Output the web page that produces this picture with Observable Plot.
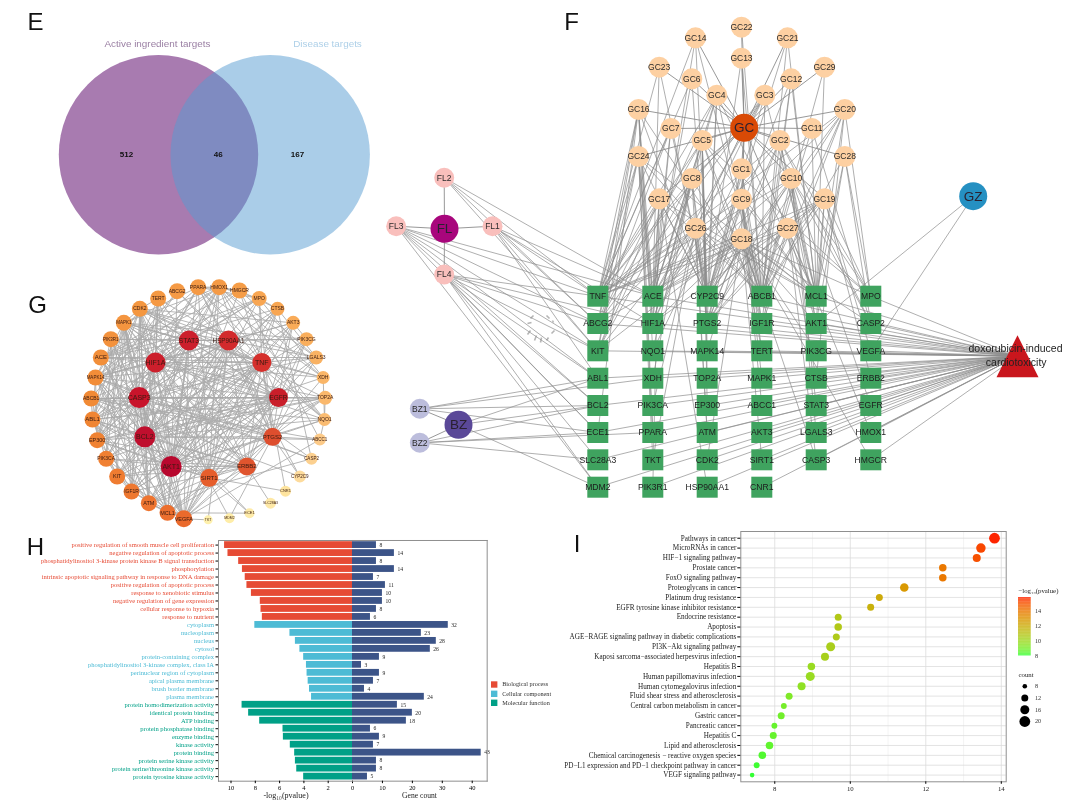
<!DOCTYPE html>
<html><head><meta charset="utf-8">
<script src="https://cdn.jsdelivr.net/npm/d3@7"></script>
<script src="https://cdn.jsdelivr.net/npm/@observablehq/plot@0.6"></script>
<style>
html,body{margin:0;padding:0;background:#fff}
#page{position:relative;width:1080px;height:800px;overflow:hidden;background:#fff;filter:blur(.35px)}
#page svg{position:absolute;background:transparent;overflow:visible}
</style></head><body><div id="page"></div>
<script>
// ---------- Panel E : Venn ----------
const vennSets = [
  {name:"Active ingredient targets", count:512, cx:158, cy:154.2, r:99.7, fill:"#a87bb0", op:1, labelX:157, numX:126, tint:"#9a7fa3"},
  {name:"Disease targets", count:167, cx:269.7, cy:154.2, r:99.7, fill:"#559bd1", op:0.5, labelX:327, numX:297, tint:"#aed0e8"}
];
const vennOverlap = {count:46, x:217.7, y:153.7};

// ---------- Panel F : network ----------
const targetRows = [
  ["TNF","ACE","CYP2C9","ABCB1","MCL1","MPO"],
  ["ABCG2","HIF1A","PTGS2","IGF1R","AKT1","CASP2"],
  ["KIT","NQO1","MAPK14","TERT","PIK3CG","VEGFA"],
  ["ABL1","XDH","TOP2A","MAPK1","CTSB","ERBB2"],
  ["BCL2","PIK3CA","EP300","ABCC1","STAT3","EGFR"],
  ["ECE1","PPARA","ATM","AKT3","LGALS3","HMOX1"],
  ["SLC28A3","TKT","CDK2","SIRT1","CASP3","HMGCR"],
  ["MDM2","PIK3R1","HSP90AA1","CNR1"]
];
const gridX = [597.3,652.3,706.7,761.3,815.7,870.3];
const gridY = [295.7,323,350.3,377.7,405,432,459.3,486.7];
const herbNodes = [
  ["GC22",741,26.7],["GC14",695,37.3],["GC21",787,37.3],["GC13",741,57.7],["GC23",658.7,66.7],["GC29",824,66.7],
  ["GC6",691.3,78.3],["GC12",790.7,78.3],["GC4",716.3,94.7],["GC3",764.3,94.7],["GC16",638,109],["GC20",844.3,109],
  ["GC7",670.3,128],["GC11",811.3,128],["GC5",701.7,140],["GC2",779.3,140],["GC24",638,156],["GC28",844.3,156],
  ["GC1",741,168.3],["GC8",691.3,178],["GC10",790.7,178],["GC17",658.7,198.3],["GC9",741,198.7],["GC19",824,198.3],
  ["GC26",695,227.7],["GC27",787,227.7],["GC18",741,238.3]
];
const flNodes = [["FL2",443.7,177.3],["FL3",395.7,225.7],["FL1",492,225.7],["FL4",443.7,274]];
const bzNodes = [["BZ1",419.3,408.3],["BZ2",419.3,442.3]];
const hubNodes = [
  ["GC",743.7,127.3,"#d94a06"],["FL",444,228.3,"#a8067c"],["BZ",458,424.3,"#5a4898"],["GZ",972.7,195.7,"#2590c2"]
];
const disease = {x:1017,y:355.7,line1:"doxorubicin-induced",line2:"cardiotoxicity"};
const herbTargets = {
  FL1:"TNF ABCG2 KIT ACE HIF1A ABL1", FL2:"TNF ABCG2 KIT ACE", FL3:"TNF ABCG2 KIT ACE ABL1 ECE1 MDM2 BCL2",
  FL4:"TNF ABCG2 KIT ABL1 BCL2 ECE1 SLC28A3 MDM2 HIF1A",
  BZ1:"BCL2 ECE1 ABL1 XDH", BZ2:"ECE1 SLC28A3 BCL2 PPARA", BZ:"ABL1 BCL2 MDM2", GZ:"AKT1 VEGFA",
  GC1:"CYP2C9 ABCB1 PTGS2 NQO1 IGF1R",
  GC2:"TNF ACE CYP2C9 ABCB1 MCL1 MPO PTGS2 AKT1 CASP2",
  GC3:"TNF ACE CYP2C9 ABCB1 MCL1 ABCG2 HIF1A",
  GC4:"TNF ACE CYP2C9 ABCB1 MCL1 KIT HIF1A PTGS2",
  GC5:"TNF ACE CYP2C9 ABCB1 MCL1 MPO HIF1A PTGS2 IGF1R ABCG2 MAPK14 TOP2A EP300",
  GC6:"TNF ACE CYP2C9", GC7:"TNF ACE CYP2C9 ABCG2 HIF1A",
  GC8:"TNF ACE CYP2C9 ABCB1 KIT HIF1A NQO1 PTGS2 ATM XDH",
  GC9:"ACE CYP2C9 ABCB1 MCL1 TNF PTGS2 IGF1R TERT MAPK1 ABCC1",
  GC10:"TNF ACE CYP2C9 ABCB1 MCL1 MPO AKT1 CASP2 PTGS2 STAT3 EGFR LGALS3",
  GC11:"ABCB1 MCL1 CASP2", GC12:"CYP2C9 ABCB1 MCL1 IGF1R", GC13:"CYP2C9 ABCB1", GC14:"TNF ACE CYP2C9 ABCB1",
  GC16:"TNF ACE CYP2C9 ABCB1 ABCG2 HIF1A KIT NQO1 ECE1 PPARA",
  GC17:"TNF ACE CYP2C9 ABCB1 MCL1 ABCG2 HIF1A KIT PIK3R1 HSP90AA1",
  GC18:"TNF ACE CYP2C9 ABCB1 MCL1 MPO ABCG2 HIF1A PTGS2 IGF1R AKT1 CASP2 MAPK14 TERT PIK3CG KIT CDK2 SIRT1 CASP3 HMGCR",
  GC19:"TNF ACE CYP2C9 ABCB1 MCL1 MPO PTGS2 AKT1 HIF1A VEGFA ERBB2",
  GC20:"TNF ACE CYP2C9 ABCB1 MCL1 MPO PTGS2 IGF1R CTSB",
  GC21:"CYP2C9 ABCB1 MCL1", GC22:"ABCB1", GC23:"TNF ACE CYP2C9",
  GC24:"TNF ACE CYP2C9 ABCB1 KIT MCL1 ABCG2 HIF1A PPARA TKT",
  GC26:"TNF ACE CYP2C9 ABCB1 MCL1 HIF1A ABCG2 KIT PTGS2 PIK3CA ATM TKT",
  GC27:"TNF ACE CYP2C9 ABCB1 MCL1 MPO PTGS2 IGF1R AKT1 CTSB HMOX1 CASP3",
  GC28:"MCL1 MPO AKT1 CASP2 ABCB1", GC29:"ABCB1 MCL1"
};
const spinnerTicks = [[546,315,549,318],[553,322,552,320],[554,330,551,333],[548,337,546,340],[541,337,540,342],[536,335,534,340],[530,330,527,334],[527,323,531,322],[533,315,530,318]];
const panelLetters = [["E",35,22],["F",571,22],["G",37,305],["H",35,547],["I",576.7,544]];

// ---------- Panel G : PPI circle ----------
const ppiNodes = [
  ["ABCG2",470,62,8,"#f59a45",5],["PPARA",533,50,8,"#f59a45",5],["HMOX1",596,50,8,"#f59a45",5],["HMGCR",657,60,8,"#f59d48",5],
  ["MPO",716,84,7.5,"#f8a652",5],["CTSB",771,115,7,"#f8a652",5],["AKT3",818,157,7,"#f9ab58",5],["PIK3CG",858,206,7,"#f9ae5c",5],
  ["LGALS3",887,261,7,"#f9b263",5],["XDH",908,321,6.5,"#fab668",5],["TOP2A",914,382,7,"#fab86c",5],["NQO1",912,447,6.5,"#fabc72",5],
  ["ABCC1",898,507,6,"#fcca88",4.5],["CASP2",873,565,6,"#fcd08f",4.5],["CYP2C9",838,618,6,"#fddb9c",4.5],["CNR1",795,662,5.5,"#fee49f",4],
  ["SLC28A3",750,698,5.5,"#fee8a6",3.5],["ECE1",687,728,5,"#feeba8",4],["MDM2",627,743,5,"#feeda8",3.5],["TKT",563,748,4.5,"#fef0ac",3.5],
  ["VEGFA",490,745,8.5,"#ea6a2c",5.5],["MCL1",441,727,8,"#ec6f2e",5.5],["ATM",385,698,8,"#ee7530",5.5],["IGF1R",333,663,8,"#ee7830",5],
  ["KIT",290,618,8,"#ef7c31",5.5],["PIK3CA",257,565,8,"#f08032",5],["EP300",230,509,8,"#f08232",5.5],["ABL1",216,447,8,"#f08533",6],
  ["ABCB1",212,384,8,"#f18a35",5],["MAPK14",225,321,8,"#f28d38",4.5],["ACE",241,261,8,"#f28f3a",6],["PIK3R1",271,206,8,"#f3923d",4.5],
  ["MAPK1",310,157,8,"#f4953f",4.5],["CDK2",358,115,8,"#f49740",5],["TERT",413,84,8,"#f59943",5],
  ["STAT3",505,210,10,"#cc1f2c",7],["HSP90AA1",624,210,10,"#d22a2c",6.3],["TNF",724,276,9.5,"#d5302c",7],["EGFR",774,381,9.5,"#c91e2a",6.5],
  ["PTGS2",756,499,9,"#de4e2e",6],["ERBB2",679,588,9,"#e0552e",6],["SIRT1",566,622,9,"#e65e2c",6],["AKT1",452,588,10.5,"#b8082e",7],
  ["BCL2",373,499,10.5,"#bf0f2e",7],["CASP3",356,381,10.5,"#c8142b",7],["HIF1A",405,276,10,"#cc1f2c",7]
];
const ppiEdges = {
  AKT1:"BCL2 CASP3 EGFR HIF1A STAT3 HSP90AA1 TNF PTGS2 ERBB2 SIRT1 MCL1 VEGFA ATM IGF1R KIT PIK3CA EP300 ABL1 ABCB1 MAPK14 ACE PIK3R1 MAPK1 CDK2 TERT ABCG2 PPARA HMOX1 HMGCR MPO CTSB AKT3 PIK3CG LGALS3 NQO1 TOP2A",
  BCL2:"CASP3 EGFR HIF1A STAT3 HSP90AA1 TNF PTGS2 ERBB2 SIRT1 MCL1 VEGFA ATM KIT EP300 ABL1 ABCB1 MAPK14 ACE PIK3R1 MAPK1 CDK2 TERT HMOX1 MPO CTSB XDH NQO1 TOP2A ABCC1",
  CASP3:"EGFR HIF1A STAT3 HSP90AA1 TNF PTGS2 ERBB2 SIRT1 MCL1 VEGFA ATM IGF1R PIK3CA EP300 ABL1 ABCB1 MAPK14 PIK3R1 MAPK1 CDK2 TERT PPARA HMOX1 CTSB LGALS3 TOP2A CASP2",
  HIF1A:"EGFR STAT3 HSP90AA1 TNF PTGS2 ERBB2 SIRT1 VEGFA IGF1R EP300 ABL1 MAPK14 ACE PIK3CA MAPK1 CDK2 TERT PPARA HMOX1 HMGCR MPO XDH NQO1 TOP2A",
  STAT3:"EGFR HSP90AA1 TNF PTGS2 ERBB2 SIRT1 MCL1 VEGFA KIT IGF1R EP300 ABL1 MAPK14 ACE PIK3R1 PIK3CA MAPK1 CDK2 TERT HMOX1 PIK3CG MPO",
  HSP90AA1:"EGFR TNF PTGS2 ERBB2 SIRT1 MCL1 VEGFA ATM KIT IGF1R EP300 ABL1 ABCB1 MAPK14 PIK3R1 MAPK1 CDK2 TERT ABCG2 AKT3 PIK3CG LGALS3 NQO1 TKT",
  TNF:"EGFR PTGS2 ERBB2 SIRT1 MCL1 VEGFA ATM KIT IGF1R EP300 ABL1 MAPK14 ACE MAPK1 CDK2 PPARA HMOX1 HMGCR MPO CTSB XDH LGALS3 NQO1 CNR1",
  EGFR:"PTGS2 ERBB2 SIRT1 VEGFA ATM KIT IGF1R PIK3CA EP300 ABL1 ABCB1 MAPK14 PIK3R1 MAPK1 CDK2 ABCG2 AKT3 PIK3CG LGALS3 TOP2A",
  PTGS2:"ERBB2 SIRT1 VEGFA ABCB1 MAPK14 ACE MAPK1 PPARA HMOX1 MPO CYP2C9 NQO1 ABCC1 XDH LGALS3 MDM2 PIK3CG",
  ERBB2:"SIRT1 VEGFA KIT IGF1R PIK3CA EP300 ABL1 PIK3R1 MAPK1 CDK2 AKT3 MCL1 SLC28A3",
  SIRT1:"VEGFA MCL1 ATM EP300 ABL1 MAPK14 TERT PPARA HMOX1 AKT3 CDK2 ECE1 CNR1",
  VEGFA:"ATM KIT IGF1R PIK3CA ABL1 MAPK14 ACE MAPK1 ABCC1 CTSB HMOX1 PIK3CG TKT",
  MCL1:"ATM IGF1R ABL1 MAPK14 MAPK1 CDK2 TOP2A ECE1",
  ATM:"EP300 ABL1 CDK2 TERT TOP2A MAPK14 MAPK1 CASP2",
  IGF1R:"KIT PIK3CA PIK3R1 ABL1 MAPK1 AKT3 CDK2",
  KIT:"PIK3CA PIK3R1 ABL1 MAPK1 CTSB",
  PIK3CA:"PIK3R1 PIK3CG ABL1 AKT3 MAPK1",
  EP300:"CDK2 TERT MAPK14 MAPK1 PPARA TOP2A",
  ABL1:"CDK2 MAPK14 MAPK1 PIK3R1 ABCG2 ABCB1 TOP2A",
  ABCB1:"ABCG2 ABCC1 CYP2C9 NQO1 TOP2A",
  MAPK14:"MAPK1 CDK2 PPARA HMOX1 MPO AKT3 CASP2",
  ACE:"HMOX1 HMGCR MPO CTSB LGALS3 ECE1",
  MAPK1:"CDK2 PPARA HMOX1 PIK3CG XDH CASP2 MDM2",
  CDK2:"TERT TOP2A AKT3 LGALS3",
  PPARA:"HMOX1 HMGCR MPO XDH NQO1 CYP2C9",
  HMOX1:"HMGCR MPO XDH NQO1 LGALS3",
  HMGCR:"LGALS3 CTSB ABCC1",
  MPO:"CTSB XDH",
  CTSB:"LGALS3 CASP2",
  NQO1:"XDH TOP2A ABCC1",
  PIK3CG:"AKT3"
};

// ---------- Panel H : GO ----------
const goTerms = [
  "positive regulation of smooth muscle cell proliferation","negative regulation of apoptotic process",
  "phosphatidylinositol 3-kinase protein kinase B signal transduction","phosphorylation",
  "intrinsic apoptotic signaling pathway in response to DNA damage","positive regulation of apoptotic process",
  "response to xenobiotic stimulus","negative regulation of gene expression","cellular response to hypoxia","response to nutrient",
  "cytoplasm","nucleoplasm","nucleus","cytosol","protein-containing complex","phosphatidylinositol 3-kinase complex, class IA",
  "perinuclear region of cytoplasm","apical plasma membrane","brush border membrane","plasma membrane",
  "protein homodimerization activity","identical protein binding","ATP binding","protein phosphatase binding","enzyme binding",
  "kinase activity","protein binding","protein serine kinase activity","protein serine/threonine kinase activity","protein tyrosine kinase activity"
];
const goLogP = [10.53,10.25,9.37,9.06,8.83,8.69,8.32,7.59,7.53,7.42, 8.04,5.15,4.70,4.33,4.02,3.79,3.74,3.65,3.54,3.37, 9.09,8.55,7.64,5.72,5.69,5.12,4.76,4.70,4.59,4.02];
const goCount = [8,14,8,14,7,11,10,10,8,6, 32,23,28,26,9,3,9,7,4,24, 15,20,18,6,9,7,43,8,8,5];
const goCategories = ["Biological process","Cellular component","Molecular function"];
const goColors = ["#e64b35","#4dbbd5","#00a087"];
const goCategoryOf = i => goCategories[i < 10 ? 0 : i < 20 ? 1 : 2];

// ---------- Panel I : KEGG ----------
const keggTerms = ["Pathways in cancer","MicroRNAs in cancer","HIF−1 signaling pathway","Prostate cancer","FoxO signaling pathway","Proteoglycans in cancer","Platinum drug resistance","EGFR tyrosine kinase inhibitor resistance","Endocrine resistance","Apoptosis","AGE−RAGE signaling pathway in diabetic complications","PI3K−Akt signaling pathway","Kaposi sarcoma−associated herpesvirus infection","Hepatitis B","Human papillomavirus infection","Human cytomegalovirus infection","Fluid shear stress and atherosclerosis","Central carbon metabolism in cancer","Gastric cancer","Pancreatic cancer","Hepatitis C","Lipid and atherosclerosis","Chemical carcinogenesis − reactive oxygen species","PD−L1 expression and PD−1 checkpoint pathway in cancer","VEGF signaling pathway"];
const keggX = [13.82,13.46,13.35,12.45,12.45,11.43,10.77,10.54,9.68,9.68,9.63,9.48,9.33,8.97,8.94,8.71,8.38,8.24,8.17,7.99,7.96,7.86,7.67,7.52,7.40];
const keggLogP = [15.7,15.2,15,13.9,13.9,12.7,12,11.7,10.7,10.7,10.6,10.4,10.3,9.8,9.8,9.5,9.1,8.9,8.8,8.6,8.6,8.5,8.3,8.1,8];
const keggCount = [20,17,14,13,13,15,12,12,12,13,12,16,14,13,16,14,12,10,12,10,12,13,13,10,8];
const sizeLegend = [8,12,16,20];
const colorTicks = [14,12,10,8];

// ---------- build ----------
const page = document.getElementById("page");
const place = (svg,left,top) => { svg.style.left = left+"px"; svg.style.top = top+"px"; page.appendChild(svg); };
const SANS = "Liberation Sans, Arial, sans-serif", SERIF = "Liberation Serif, Times New Roman, serif";

const pos = new Map();
targetRows.forEach((row,j)=>row.forEach((n,i)=>pos.set(n,{x:gridX[i],y:gridY[j]})));
const targets = targetRows.flatMap((row,j)=>row.map((n,i)=>({name:n,x:gridX[i],y:gridY[j]})));
const asNode = (a,r,fill,size) => ({name:a[0],x:a[1],y:a[2],r,fill,size});
const smallNodes = [
  ...herbNodes.map(a=>asNode(a,10.5,"#fdd0a2",8.5)),
  ...flNodes.map(a=>asNode(a,10,"#f9bfbc",8.5)),
  ...bzNodes.map(a=>asNode(a,10,"#bcbddc",8.5))
];
const bigNodes = hubNodes.map(a=>({name:a[0],x:a[1],y:a[2],r:14,fill:a[3],size:13.5}));
[...smallNodes,...bigNodes].forEach(n=>pos.set(n.name,n));
const linkOf = (a,b)=>({x1:pos.get(a).x,y1:pos.get(a).y,x2:pos.get(b).x,y2:pos.get(b).y});
const hubEdges = [
  ...herbNodes.map(a=>linkOf("GC",a[0])),
  ...flNodes.map(a=>linkOf("FL",a[0])),
  ...bzNodes.map(a=>linkOf("BZ",a[0]))
];
const herbEdges = Object.entries(herbTargets).flatMap(([h,l])=>l.split(" ").map(t=>linkOf(h,t)));
const diseaseEdges = targets.map(t=>({x1:t.x,y1:t.y,x2:disease.x,y2:disease.y}));
const triangleSymbol = {draw(c,size){const r=Math.sqrt(size/Math.PI);c.moveTo(0,-r);c.lineTo(r,r);c.lineTo(-r,r);c.closePath();}};

const vennLabels = vennSets.map(s=>({t:s.name,x:s.labelX,y:43,fill:s.tint}));
const vennNumbers = [...vennSets.map(s=>({t:String(s.count),x:s.numX,y:153.7})),{t:String(vennOverlap.count),x:vennOverlap.x,y:vennOverlap.y}];

place(Plot.plot({
  width:1080,height:800,margin:0,
  x:{domain:[0,1080],range:[0,1080],axis:null},
  y:{domain:[0,800],range:[0,800],axis:null},
  r:{type:"identity"},color:{type:"identity"},
  marks:[
    Plot.dot(vennSets,{x:"cx",y:"cy",r:"r",fill:"fill",fillOpacity:"op"}),
    Plot.text(vennLabels,{x:"x",y:"y",text:"t",fill:"fill",fontSize:9.9,fontFamily:SANS}),
    Plot.text(vennNumbers,{x:"x",y:"y",text:"t",fill:"#111",fontSize:8,fontWeight:700,fontFamily:SANS}),
    Plot.link(spinnerTicks,{x1:d=>d[0],y1:d=>d[1],x2:d=>d[2],y2:d=>d[3],stroke:"#b5b5b5",strokeWidth:1.6}),
    Plot.link(diseaseEdges,{x1:"x1",y1:"y1",x2:"x2",y2:"y2",stroke:"#8c8c8c",strokeWidth:.7}),
    Plot.link(herbEdges,{x1:"x1",y1:"y1",x2:"x2",y2:"y2",stroke:"#8c8c8c",strokeWidth:.7}),
    Plot.link(hubEdges,{x1:"x1",y1:"y1",x2:"x2",y2:"y2",stroke:"#8c8c8c",strokeWidth:.9}),
    Plot.dot(targets,{x:"x",y:"y",symbol:"square",r:11.85,fill:"#3fa35f"}),
    Plot.dot([disease],{x:"x",y:"y",symbol:triangleSymbol,r:21,fill:"#c9161d"}),
    Plot.dot(smallNodes,{x:"x",y:"y",r:"r",fill:"fill"}),
    Plot.dot(bigNodes,{x:"x",y:"y",r:"r",fill:"fill"}),
    Plot.text(targets,{x:"x",y:"y",text:"name",fill:"#1c1c1c",fontSize:8.6,fontFamily:SANS}),
    Plot.text(smallNodes,{x:"x",y:"y",text:"name",fill:"#2a2a2a",fontSize:8.5,fontFamily:SANS}),
    Plot.text(bigNodes,{x:"x",y:"y",text:"name",fill:"#2a2030",fontSize:13.5,fontFamily:SANS}),
    Plot.text([disease.line1],{x:()=>1015,y:()=>347.7,text:d=>d,fill:"#222",fontSize:10.5,fontFamily:SANS}),
    Plot.text([disease.line2],{x:()=>1015.7,y:()=>362,text:d=>d,fill:"#222",fontSize:10.5,fontFamily:SANS}),
    Plot.text(panelLetters,{x:d=>d[1],y:d=>d[2],text:d=>d[0],fill:"#111",fontSize:24,fontFamily:SANS}),
    // H axis titles
    Plot.text(["-log₁₀(pvalue)"],{x:()=>285.5,y:()=>795,text:d=>d,fill:"#222",fontSize:8,fontFamily:SERIF}),
    Plot.text(["Gene count"],{x:()=>419,y:()=>795,text:d=>d,fill:"#222",fontSize:7.6,fontFamily:SERIF}),
    // H legend
    Plot.dot(goCategories,{x:()=>493.7,y:(d,i)=>[684,693.3,702.3][i],symbol:"square",r:3.6,fill:(d,i)=>goColors[i]}),
    Plot.text(goCategories,{x:()=>501.7,y:(d,i)=>[684,693.3,702.3][i],text:d=>d,textAnchor:"start",fill:"#333",fontSize:6.2,fontFamily:SERIF}),
    // I legend titles
    Plot.text(["−log₁₀(pvalue)"],{x:()=>1018,y:()=>590,text:d=>d,textAnchor:"start",fill:"#222",fontSize:6.8,fontFamily:SERIF}),
    Plot.text(["count"],{x:()=>1018,y:()=>674,text:d=>d,textAnchor:"start",fill:"#222",fontSize:6.8,fontFamily:SERIF})
  ]
}),0,0);

// Panel G
const ppiPos = new Map(ppiNodes.map(n=>[n[0],n]));
const ppiLinks = Object.entries(ppiEdges).flatMap(([a,l])=>l.split(" ").map(b=>({a:ppiPos.get(a),b:ppiPos.get(b)})));
place(Plot.plot({
  width:340,height:260,margin:0,
  x:{domain:[0,1020],range:[0,340],axis:null},
  y:{domain:[0,780],range:[0,260],axis:null},
  r:{type:"identity"},color:{type:"identity"},
  marks:[
    Plot.link(ppiLinks,{x1:d=>d.a[1],y1:d=>d.a[2],x2:d=>d.b[1],y2:d=>d.b[2],stroke:"#aaaaaa",strokeWidth:.85}),
    Plot.dot(ppiNodes,{x:d=>d[1],y:d=>d[2],r:d=>d[3],fill:d=>d[4]}),
    Plot.text(ppiNodes,{x:d=>d[1],y:d=>d[2],text:d=>d[0],fontSize:d=>d[5],fill:"#3a1a10",fontFamily:SANS})
  ]
}),20,270);

// Panel H
const goRows = goTerms.map((term,i)=>({term,logP:goLogP[i],count:goCount[i],cat:goCategoryOf(i)}));
const yH = {domain:goTerms,padding:.15,round:false,axis:null};
const colorH = {domain:goCategories,range:goColors};
const frameColor = "#8f8f8f";
place(Plot.plot({
  width:352,height:270,marginLeft:218,marginRight:0,marginTop:10,marginBottom:19.3,
  style:{fontFamily:SERIF,fontSize:"6.5px"},
  x:{domain:[11.03,0],axis:null},y:yH,color:colorH,
  marks:[
    Plot.barX(goRows,{x:"logP",y:"term",fill:"cat"}),
    Plot.text(goRows,{frameAnchor:"left",y:"term",text:"term",textAnchor:"end",dx:-4.5,fill:"cat",fontSize:6.55}),
    Plot.frame({anchor:"left",stroke:frameColor}),Plot.frame({anchor:"top",stroke:frameColor}),Plot.frame({anchor:"bottom",stroke:frameColor}),
    Plot.axisY({tickSize:2.5,label:null,tickFormat:()=>""}),
    Plot.axisX({ticks:[10,8,6,4,2,0],tickSize:2.5,tickPadding:2,label:null,fontSize:6.5,tickFormat:d=>String(d)})
  ]
}),0,530);
place(Plot.plot({
  width:135.7,height:270,marginLeft:0,marginRight:1,marginTop:10,marginBottom:19.3,
  style:{fontFamily:SERIF,fontSize:"6.5px"},
  x:{domain:[0,45],axis:null},y:yH,
  marks:[
    Plot.barX(goRows,{x:"count",y:"term",fill:"#3c5488"}),
    Plot.text(goRows,{x:"count",y:"term",text:d=>String(d.count),textAnchor:"start",dx:3,fill:"#222",fontSize:5.6}),
    Plot.frame({anchor:"right",stroke:frameColor}),Plot.frame({anchor:"top",stroke:frameColor}),Plot.frame({anchor:"bottom",stroke:frameColor}),
    Plot.axisX({ticks:[10,20,30,40],tickSize:2.5,tickPadding:2,label:null,fontSize:6.5,tickFormat:d=>String(d)})
  ]
}),352,530);

// Panel I
const keggRows = keggTerms.map((term,i)=>({term,x:keggX[i],logP:keggLogP[i],count:keggCount[i]}));
const rScale = {type:"pow",exponent:.5,domain:[8,20],range:[2.3,5.4]};
const colorI = {type:"linear",domain:[8,15.8],range:["#33ff33","#ff1a00"],interpolate:"lab"};
place(Plot.plot({
  width:446,height:275,marginLeft:180.3,marginRight:.3,marginTop:6,marginBottom:18.7,
  style:{fontFamily:SERIF,fontSize:"7.2px"},
  x:{domain:[7.1,14.13],axis:null},
  y:{type:"point",domain:keggTerms,padding:.68,round:false,axis:null},
  r:rScale,color:colorI,
  marks:[
    Plot.ruleX([9,11,13],{stroke:"#ececec",strokeWidth:.6}),
    Plot.ruleX([8,10,12,14],{stroke:"#dcdcdc",strokeWidth:.8}),
    Plot.ruleY(keggTerms,{y:d=>d,stroke:"#dcdcdc",strokeWidth:.8}),
    Plot.frame({stroke:"#8f8f8f",strokeWidth:1}),
    Plot.dot(keggRows,{x:"x",y:"term",r:"count",fill:"logP"}),
    Plot.axisY({tickSize:3,tickPadding:1.5,label:null,fontSize:7.2,fill:"#222"}),
    Plot.axisX({ticks:[8,10,12,14],tickSize:2.5,tickPadding:2,label:null,fontSize:6.8,fill:"#222",tickFormat:d=>String(d)})
  ]
}),560,525);

// I colour bar
place(Plot.plot({
  width:40,height:58.4,marginLeft:0,marginRight:27.3,marginTop:0,marginBottom:0,
  style:{fontFamily:SERIF,fontSize:"6.2px"},
  x:{domain:[0,1],axis:null},y:{domain:[8,15.8],axis:null},color:colorI,
  marks:[
    Plot.rect(d3.range(8,15.8,.1),{x1:()=>0,x2:()=>1,y1:d=>d,y2:d=>d+.1,fill:d=>d}),
    Plot.text(colorTicks,{frameAnchor:"left",y:d=>d,text:d=>String(d),dx:16.5,textAnchor:"start",fill:"#333",fontSize:6.2})
  ]
}),1018,597.3);

// I size legend
place(Plot.plot({
  width:40,height:46,margin:0,
  style:{fontFamily:SERIF,fontSize:"6.2px"},
  x:{domain:[0,1],axis:null},
  y:{type:"point",domain:sizeLegend,range:[5.7,41],padding:0,round:false,axis:null},
  r:rScale,
  marks:[
    Plot.dot(sizeLegend,{frameAnchor:"left",dx:6.3,y:d=>d,r:d=>d,fill:"#000"}),
    Plot.text(sizeLegend,{frameAnchor:"left",dx:16.5,y:d=>d,text:d=>String(d),textAnchor:"start",fill:"#333",fontSize:6.2})
  ]
}),1018,680);
</script></body></html>
